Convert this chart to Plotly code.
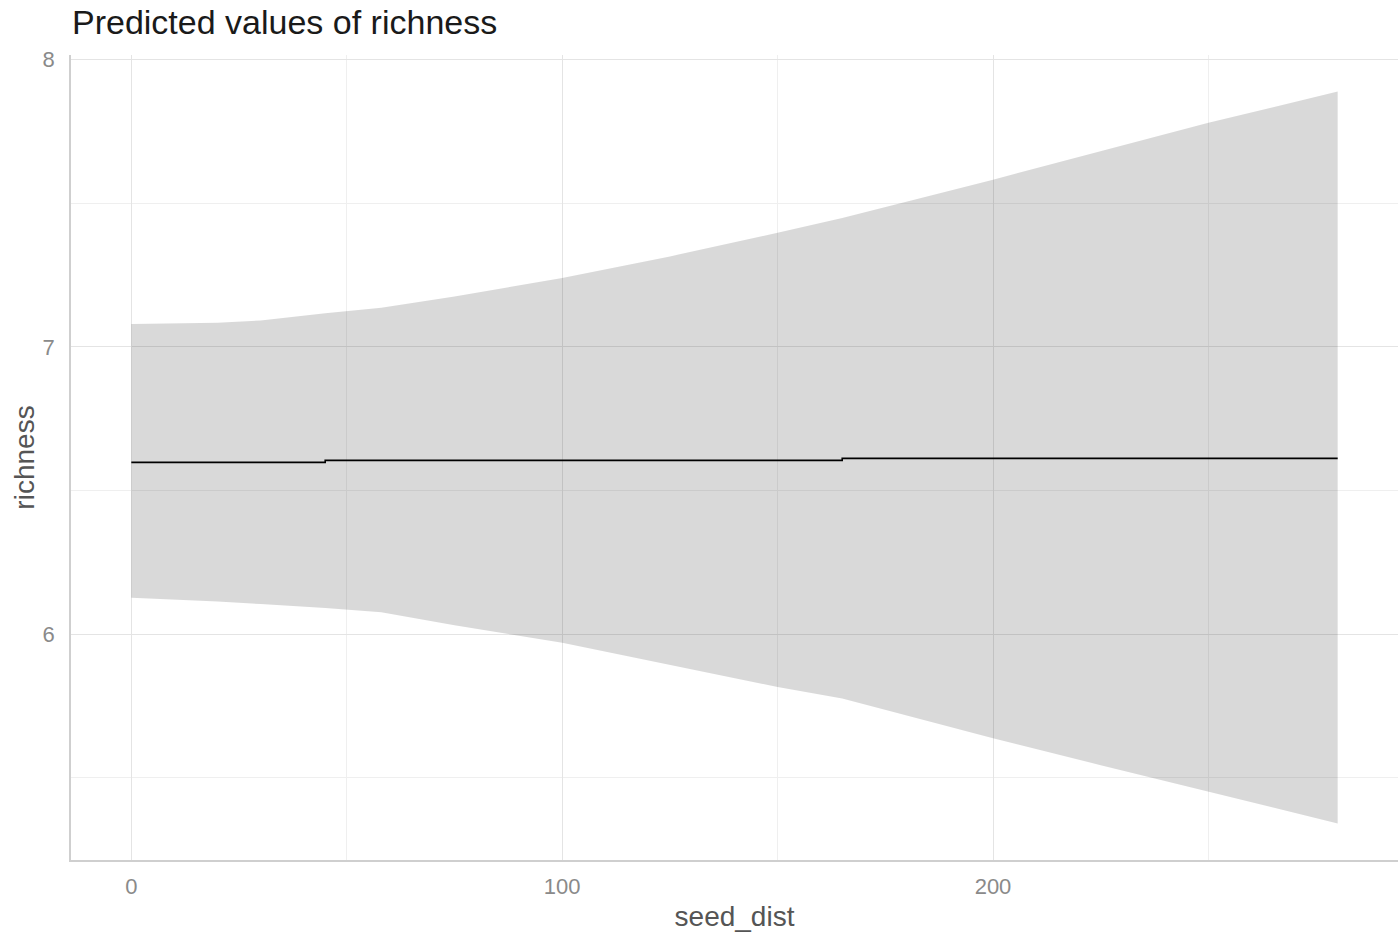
import plotly.graph_objects as go

# Predicted values of richness along seed_dist with confidence band
seed_dist = [0, 10, 20, 30, 45, 58, 75, 100, 125, 150, 165, 200, 225, 250, 280]
ci_high = [7.080, 7.081, 7.084, 7.092, 7.117, 7.136, 7.175, 7.240, 7.315,
           7.397, 7.449, 7.582, 7.680, 7.780, 7.889]
ci_low = [6.127, 6.121, 6.114, 6.105, 6.091, 6.076, 6.031, 5.970, 5.892,
          5.816, 5.776, 5.638, 5.544, 5.451, 5.341]

# Predicted line (stepped at the observed break points)
pred_x = [0, 45, 165, 280]
pred_y = [6.598, 6.605, 6.612, 6.612]

x_ticks = [0, 100, 200]
y_ticks = [6, 7, 8]

FONT = "Liberation Sans, Arial, sans-serif"

fig = go.Figure()
fig.add_trace(go.Scatter(
    x=seed_dist, y=ci_low, mode="lines", line=dict(width=0),
    hoverinfo="skip", showlegend=False,
))
fig.add_trace(go.Scatter(
    x=seed_dist, y=ci_high, mode="lines", line=dict(width=0),
    fill="tonexty", fillcolor="rgba(0,0,0,0.15)",
    hoverinfo="skip", showlegend=False,
))
fig.add_trace(go.Scatter(
    x=pred_x, y=pred_y, mode="lines", line=dict(color="black", width=1.6, shape="hv"),
    showlegend=False,
))

fig.update_layout(
    width=1400, height=936,
    margin=dict(l=71, r=2, t=55, b=76),
    paper_bgcolor="white", plot_bgcolor="white",
    font=dict(family=FONT),
    title=dict(
        text="Predicted values of richness",
        x=72 / 1400, xref="container", xanchor="left",
        y=1 - 22 / 936, yref="container", yanchor="middle",
        font=dict(size=34, color="#1a1a1a", family=FONT),
    ),
    xaxis=dict(
        range=[-14, 294], tickvals=x_ticks, ticktext=[str(v) for v in x_ticks],
        showgrid=True, gridcolor="#e4e4e4", gridwidth=1,
        minor=dict(dtick=50, tick0=0, showgrid=True, gridcolor="#efefef", gridwidth=1),
        showline=True, linecolor="#cfcfcf", linewidth=1.5,
        ticks="outside", ticklen=6, tickcolor="rgba(0,0,0,0)",
        tickfont=dict(size=22, color="#8a8a8a"),
        zeroline=False,
        title=dict(text="seed_dist", font=dict(size=28, color="#555555"), standoff=8),
    ),
    yaxis=dict(
        range=[5.214, 8.016], tickvals=y_ticks, ticktext=[str(v) for v in y_ticks],
        showgrid=True, gridcolor="#e4e4e4", gridwidth=1,
        minor=dict(dtick=0.5, tick0=5.5, showgrid=True, gridcolor="#efefef", gridwidth=1),
        showline=True, linecolor="#cfcfcf", linewidth=1.5,
        ticks="outside", ticklen=10, tickcolor="rgba(0,0,0,0)",
        tickfont=dict(size=22, color="#8a8a8a"),
        zeroline=False,
        title=dict(text="richness", font=dict(size=28, color="#555555"), standoff=0),
    ),
)

fig.write_html("out.html")
